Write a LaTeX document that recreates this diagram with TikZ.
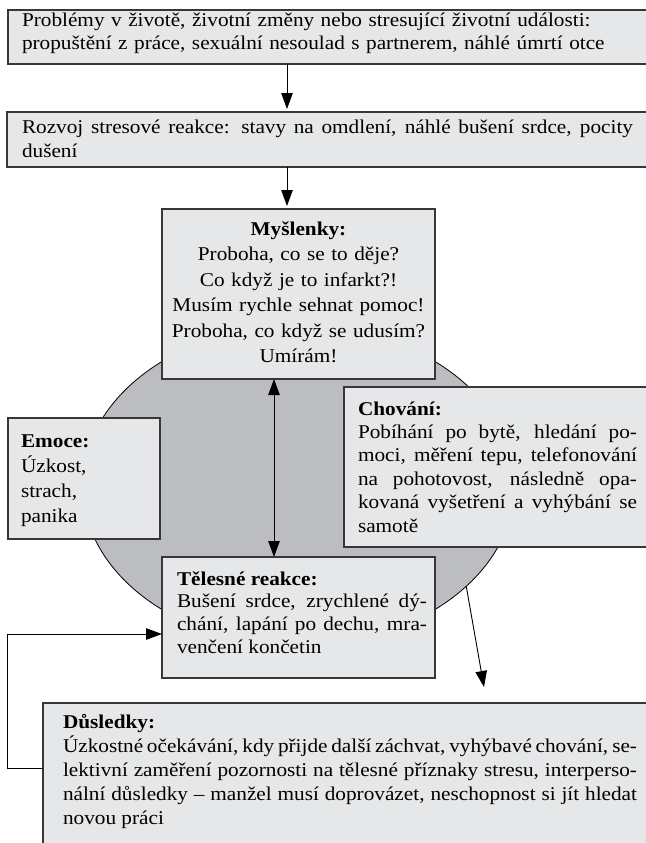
\documentclass[tikz,border=0pt]{standalone}
\usepackage{fontspec}
\setmainfont{Liberation Serif}[FakeStretch=1.09]
\usetikzlibrary{arrows.meta,shapes.geometric,calc}
\definecolor{boxfill}{RGB}{230,231,232}
\definecolor{ellfill}{RGB}{188,189,192}
\definecolor{edgegray}{RGB}{55,55,55}
\tolerance=10000
\hyphenpenalty=10000
\exhyphenpenalty=10000
\begin{document}
\begin{tikzpicture}[x=1pt,y=-1pt,
  panel/.style={draw=edgegray, line width=1.2pt, fill=boxfill, rectangle, anchor=north west, inner sep=0pt, outer sep=0pt},
  txt/.style={inner sep=0pt, outer sep=0pt, anchor=base west, font=\fontsize{19.5}{#1}\selectfont},
  txt/.default=23.5,
  arr/.style={-{Triangle[length=16pt,width=11.5pt]}, line width=0.9pt, black},
  dbl/.style={{Triangle[length=16pt,width=11.5pt]}-{Triangle[length=16pt,width=11.5pt]}, line width=0.9pt, black},
]
\useasboundingbox (0,0) rectangle (645,843);
\fill[white] (0,0) rectangle (645,843);

% central ellipse
\node[ellipse, draw=black, line width=0.8pt, fill=ellfill, minimum width=432pt, minimum height=320pt, inner sep=0pt, outer sep=0pt] (ell) at (298.5,485.5) {};

% boxes
\node[panel, minimum width=645pt, minimum height=54pt] (b1) at (8,10) {};
\node[panel, minimum width=645pt, minimum height=55pt] (b2) at (7,112) {};
\node[panel, minimum width=273pt, minimum height=170pt] (mys) at (162,209) {};
\node[panel, minimum width=152pt, minimum height=121pt] (emo) at (8,418) {};
\node[panel, minimum width=310pt, minimum height=160pt] (cho) at (344,387) {};
\node[panel, minimum width=273pt, minimum height=121pt] (tel) at (162,557) {};
\node[panel, minimum width=610pt, minimum height=150pt] (dus) at (43,703) {};

% texts
\node[txt=23, text width=615pt, align=left] (t1) at (22,27)
  {Problémy v životě, životní změny nebo stresující životní události:\\propuštění z práce, sexuální nesoulad s partnerem, náhlé úmrtí otce};
\node[txt=24, text width=611pt, align=justify] (t2) at (22,133)
  {Rozvoj stresové reakce: stavy na omdlení, náhlé bušení srdce, pocity\linebreak dušení};
\node[txt=25.5, anchor=base, text width=273pt, align=center] (t3) at (298.5,235)
  {\textbf{Myšlenky:}\\Proboha, co se to děje?\\Co když je to infarkt?!\\Musím rychle sehnat pomoc!\\Proboha, co když se udusím?\\Umírám!};
\node[txt=25, text width=135pt, align=left] (t4) at (21,447)
  {\textbf{Emoce:}\\Úzkost,\\strach,\\panika};
\node[txt=23.4, text width=279pt, align=justify] (t5) at (358,415)
  {\textbf{Chování:}\\Pobíhání po bytě, hledání po-\linebreak moci, měření tepu, telefonování\linebreak na pohotovost, následně opa-\linebreak kovaná vyšetření a vyhýbání se\linebreak samotě};
\node[txt=22.8, text width=250pt, align=justify] (t6) at (177,585)
  {\textbf{Tělesné reakce:}\\Bušení srdce, zrychlené dý-\linebreak chání, lapání po dechu, mra-\linebreak venčení končetin};
\node[txt=24.2, text width=574pt, align=justify] (t7) at (63,728)
  {\textbf{Důsledky:}\\Úzkostné očekávání, kdy přijde další záchvat, vyhýbavé chování, se-\linebreak lektivní zaměření pozornosti na tělesné příznaky stresu, interperso-\linebreak nální důsledky – manžel musí doprovázet, neschopnost si jít hledat\linebreak novou práci};

% connectors
\coordinate (ax) at (287,0);
\coordinate (dtip) at (484,687);
\draw[arr, shorten >=3pt] (b1.south -| ax) -- (b2.north -| ax);
\draw[arr, shorten >=3pt] (b2.south -| ax) -- (mys.north -| ax);
\draw[dbl] ([xshift=-24.5pt]mys.south) -- ([xshift=-24.5pt]tel.north);
\draw[arr] ([yshift=-65pt]dus.north west) -- ++(-36,0) |- ([yshift=-16.5pt]tel.west);
\draw[arr] (ell.-31.2) -- (dtip);
\end{tikzpicture}
\end{document}
